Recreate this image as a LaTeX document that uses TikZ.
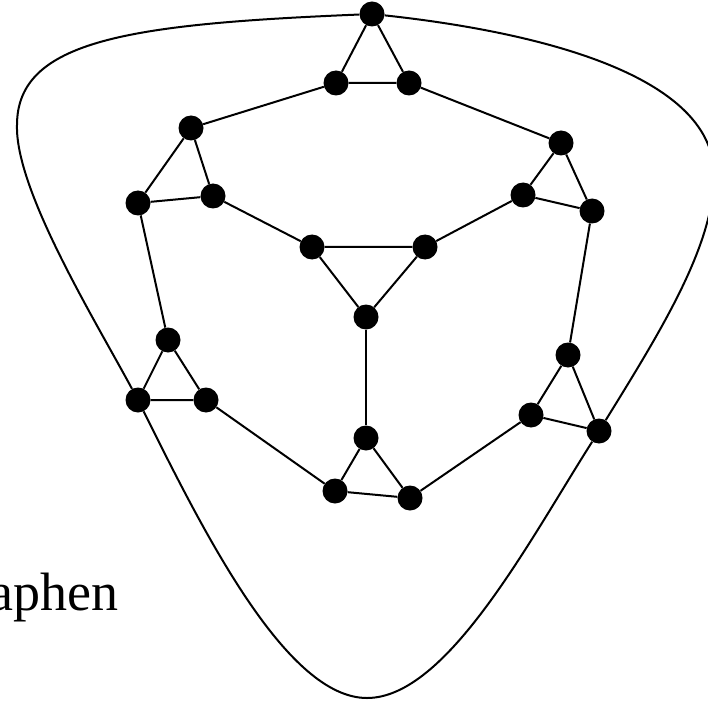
\documentclass[tikz,border=0pt]{standalone}
\usepackage{fontspec}
\setmainfont{Liberation Serif}
\begin{document}
\begin{tikzpicture}[x=1pt,y=-1pt,
  vtx/.style={circle,fill=black,inner sep=0pt,minimum size=25pt},
  edge/.style={line width=2pt},
  outer/.style={line width=2pt}]
\useasboundingbox (0,0) rectangle (708,700);
% top triangle
\node[vtx] (T0) at (372,14) {};
\node[vtx] (T1) at (336,83) {};
\node[vtx] (T2) at (409,83) {};
% upper left
\node[vtx] (UL0) at (191,128) {};
\node[vtx] (UL1) at (138,203) {};
\node[vtx] (UL2) at (213,196) {};
% upper right
\node[vtx] (UR0) at (561,143) {};
\node[vtx] (UR1) at (523,195) {};
\node[vtx] (UR2) at (592,211) {};
% center
\node[vtx] (C1) at (312,247) {};
\node[vtx] (C2) at (425,247) {};
\node[vtx] (C3) at (366,317) {};
% lower left
\node[vtx] (LL0) at (168,340) {};
\node[vtx] (LL1) at (138,400) {};
\node[vtx] (LL2) at (206,400) {};
% lower right
\node[vtx] (LR0) at (568,355) {};
\node[vtx] (LR1) at (531,415) {};
\node[vtx] (LR2) at (599,431) {};
% bottom
\node[vtx] (B0) at (366,438) {};
\node[vtx] (B1) at (335,491) {};
\node[vtx] (B2) at (410,498) {};
% triangles
\draw[edge] (T0)--(T1)--(T2)--(T0);
\draw[edge] (UL0)--(UL1)--(UL2)--(UL0);
\draw[edge] (UR0)--(UR1)--(UR2)--(UR0);
\draw[edge] (C1)--(C2)--(C3)--(C1);
\draw[edge] (LL0)--(LL1)--(LL2)--(LL0);
\draw[edge] (LR0)--(LR1)--(LR2)--(LR0);
\draw[edge] (B0)--(B1)--(B2)--(B0);
% connecting edges
\draw[edge] (T1)--(UL0);
\draw[edge] (T2)--(UR0);
\draw[edge] (UL2)--(C1);
\draw[edge] (UR1)--(C2);
\draw[edge] (UL1)--(LL0);
\draw[edge] (UR2)--(LR0);
\draw[edge] (LL2)--(B1);
\draw[edge] (LR1)--(B2);
\draw[edge] (C3)--(B0);
% outer curve
\coordinate (Lx) at (17,125);
\coordinate (Bx) at (367,698);
\coordinate (Rx) at (714,175);
\draw[outer] (T0) .. controls (130,24) and (17,40) .. (Lx)
  .. controls (15,190) and (95,320) .. (LL1);
\draw[outer] (LL1) .. controls (205,535) and (287,698) .. (Bx)
  .. controls (447,698) and (529,541) .. (LR2);
\draw[outer] (LR2) .. controls (662,329) and (714,245) .. (Rx)
  .. controls (714,70) and (520,30) .. (T0);
% label
\node[anchor=base west,inner sep=0pt,font=\fontsize{54}{60}\selectfont] (lbl) at (-11,610) {aphen};
\end{tikzpicture}
\end{document}
